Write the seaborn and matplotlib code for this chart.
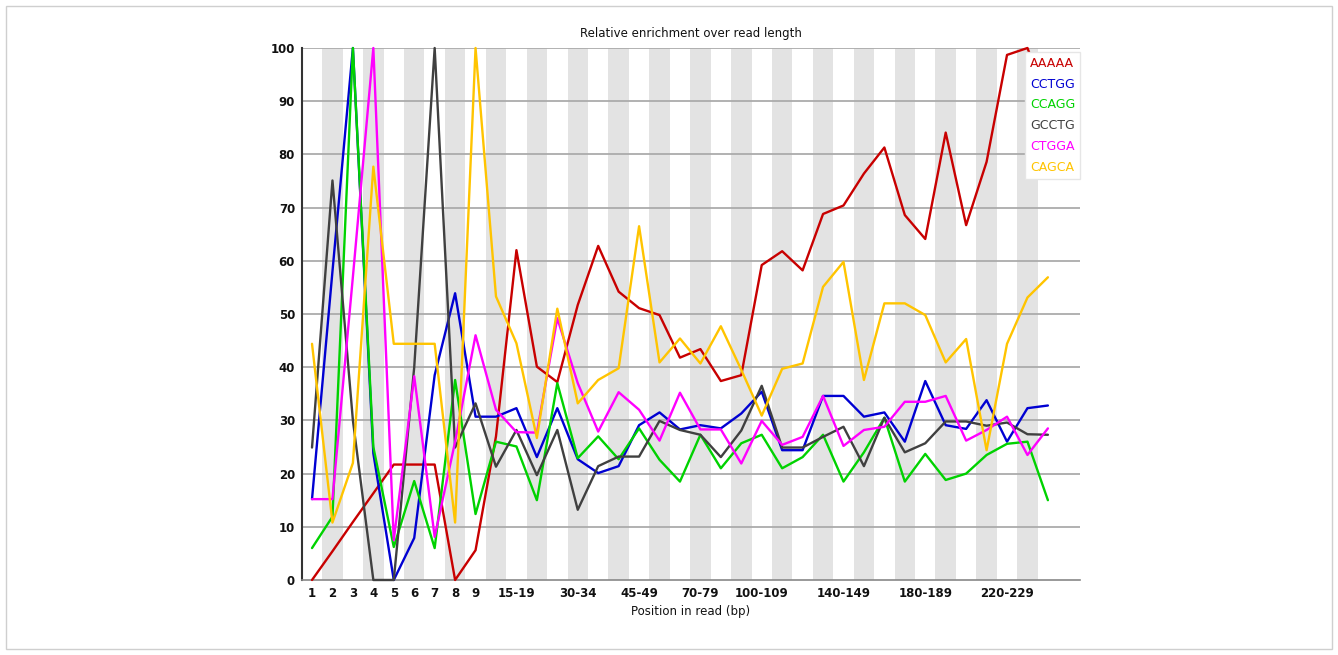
import numpy as np
import pandas as pd
import seaborn as sns
import matplotlib
matplotlib.use("Agg")
import matplotlib.pyplot as plt
from matplotlib.patches import Rectangle

# ---------------- data ----------------
categories = ['1', '2', '3', '4', '5', '6', '7', '8', '9',
              '10-14', '15-19', '20-24', '25-29', '30-34', '35-39', '40-44', '45-49',
              '50-59', '60-69', '70-79', '80-89', '90-99', '100-109', '110-119',
              '120-129', '130-139', '140-149', '150-159', '160-169', '170-179',
              '180-189', '190-199', '200-209', '210-219', '220-229', '230-239', '240-249']
shown_labels = ['1', '2', '3', '4', '5', '6', '7', '8', '9', '15-19', '30-34', '45-49',
                '70-79', '100-109', '140-149', '180-189', '220-229']

series_names = ['AAAAA', 'CCTGG', 'CCAGG', 'GCCTG', 'CTGGA', 'CAGCA']

aaaaa = [0, 5.4, 10.9, 16.3, 21.7, 21.7, 21.7, 0, 5.6, 27,
         62, 40.1, 37.2, 51.7, 62.8, 54.2, 51.1, 49.8, 41.8, 43.4,
         37.4, 38.5, 59.2, 61.8, 58.2, 68.8, 70.4, 76.4, 81.3, 68.6,
         64.1, 84.1, 66.7, 78.6, 98.7, 100, 90]
cctgg = [15.2, 58, 100, 23.8, 0, 7.9, 38.5, 53.9, 30.7, 30.7,
         32.3, 23.1, 32.3, 22.7, 20.1, 21.4, 29.1, 31.5, 28.3, 29.1,
         28.5, 31.3, 35.4, 24.4, 24.4, 34.6, 34.6, 30.7, 31.5, 26,
         37.4, 29.1, 28.4, 33.8, 26, 32.3, 32.8]
ccagg = [6, 11.9, 100, 25, 6.2, 18.6, 6, 37.6, 12.4, 26,
         25.1, 15, 37, 22.9, 27, 22.7, 28.5, 22.6, 18.5, 27.3,
         21, 25.7, 27.3, 21, 23.1, 27.3, 18.5, 24, 30.5, 18.5,
         23.7, 18.8, 20, 23.5, 25.6, 26, 15]
gcctg = [24.9, 75.1, 30, 0, 0, 40, 100, 24.9, 33.2, 21.3,
         28.2, 19.7, 28.2, 13.2, 21.4, 23.2, 23.2, 29.9, 28.2, 27.3,
         23.1, 28.1, 36.5, 24.9, 24.9, 26.9, 28.8, 21.4, 30.5, 24,
         25.7, 29.8, 29.8, 29, 29.6, 27.4, 27.3]
ctgga = [15.2, 15.2, 57, 100, 7.5, 38.3, 8.1, 26, 46, 32,
         27.8, 27.7, 49.2, 37, 27.9, 35.3, 32, 26.2, 35.2, 28.3,
         28.3, 21.9, 29.9, 25.4, 26.9, 34.6, 25.2, 28.2, 28.8, 33.5,
         33.5, 34.6, 26.2, 28.2, 30.7, 23.5, 28.5]
cagca = [44.4, 10.8, 22, 77.7, 44.4, 44.4, 44.4, 10.8, 100, 53.3,
         44.5, 26.7, 51, 33.2, 37.6, 39.8, 66.5, 40.9, 45.4, 40.7,
         47.7, 39.5, 30.9, 39.7, 40.7, 55.1, 59.8, 37.6, 52, 52,
         49.8, 40.9, 45.3, 24.4, 44.4, 53.1, 56.9]

y_ticks = [0, 10, 20, 30, 40, 50, 60, 70, 80, 90, 100]

colors = ['#c80000', '#0000d2', '#00d200', '#404040', '#ff00ff', '#ffc400']

# ---------------- build table ----------------
values = [aaaaa, cctgg, ccagg, gcctg, ctgga, cagca]
rows = []
for name, vals in zip(series_names, values):
    for i, v in enumerate(vals):
        rows.append({'pos': i, 'kmer': name, 'value': v})
df = pd.DataFrame(rows)

sns.set_theme(style="white")
plt.rcParams['font.family'] = ['DejaVu Sans']

fig = plt.figure(figsize=(13.38, 6.55), dpi=100)
ax = fig.add_axes([302 / 1338, 75 / 655, (1080 - 302) / 1338, (580 - 48) / 655])

n = len(categories)
# alternating grey bands
for i in range(n):
    if i % 2 == 1:
        ax.axvspan(i - 0.5, i + 0.5, color='#e3e3e3', lw=0, zorder=0)

for yt in y_ticks[1:]:
    ax.axhline(yt, color='#ababab', lw=1.3, zorder=1)

sns.lineplot(data=df, x='pos', y='value', hue='kmer', hue_order=series_names,
             palette=colors, lw=1.7, ax=ax, zorder=3, legend=False)

ax.set_xlim(-0.49, 37.57)
ax.set_ylim(0, 100)
ax.set_yticks(y_ticks)
ax.set_yticklabels([str(t) for t in y_ticks])
ax.set_xticks([categories.index(l) for l in shown_labels])
ax.set_xticklabels(shown_labels)
ax.tick_params(axis='both', length=0, labelsize=8.5, colors='#111111', pad=5)
for lab in ax.get_xticklabels() + ax.get_yticklabels():
    lab.set_fontweight('bold')
ax.set_xlabel('')
ax.set_ylabel('')
ax.grid(False)

for s in ['top', 'right']:
    ax.spines[s].set_visible(False)
ax.spines['left'].set_color('#333333')
ax.spines['left'].set_linewidth(1.5)
ax.spines['bottom'].set_color('#888888')
ax.spines['bottom'].set_linewidth(1.2)

for line in ax.lines[-len(series_names):]:
    line.set_clip_on(False)

# legend: coloured text only
handles = [plt.Line2D([], [], color=c, lw=0) for c in colors]
leg = ax.legend(handles, series_names, loc='upper right', bbox_to_anchor=(1.0, 0.9925),
                handlelength=0, handletextpad=0, fontsize=9, labelspacing=0.62,
                frameon=True, fancybox=False, borderpad=0.4, borderaxespad=0)
leg.get_frame().set_facecolor('white')
leg.get_frame().set_edgecolor('#e6e6e6')
leg.get_frame().set_alpha(1)
leg.set_zorder(10)
for txt, c in zip(leg.get_texts(), colors):
    txt.set_color(c)

fig.text((302 + 1080) / 2 / 1338, 1 - 33 / 655, 'Relative enrichment over read length',
         ha='center', va='center', fontsize=8.5, color='#111111')
fig.text((302 + 1080) / 2 / 1338, 1 - 612 / 655, 'Position in read (bp)',
         ha='center', va='center', fontsize=8.5, color='#111111')

fig.patches.append(Rectangle((6 / 1338, 6 / 655), 1326 / 1338, 643 / 655,
                             transform=fig.transFigure, fill=False,
                             edgecolor='#cfcfcf', lw=1))

fig.savefig('out.png', dpi=100, facecolor='white')
